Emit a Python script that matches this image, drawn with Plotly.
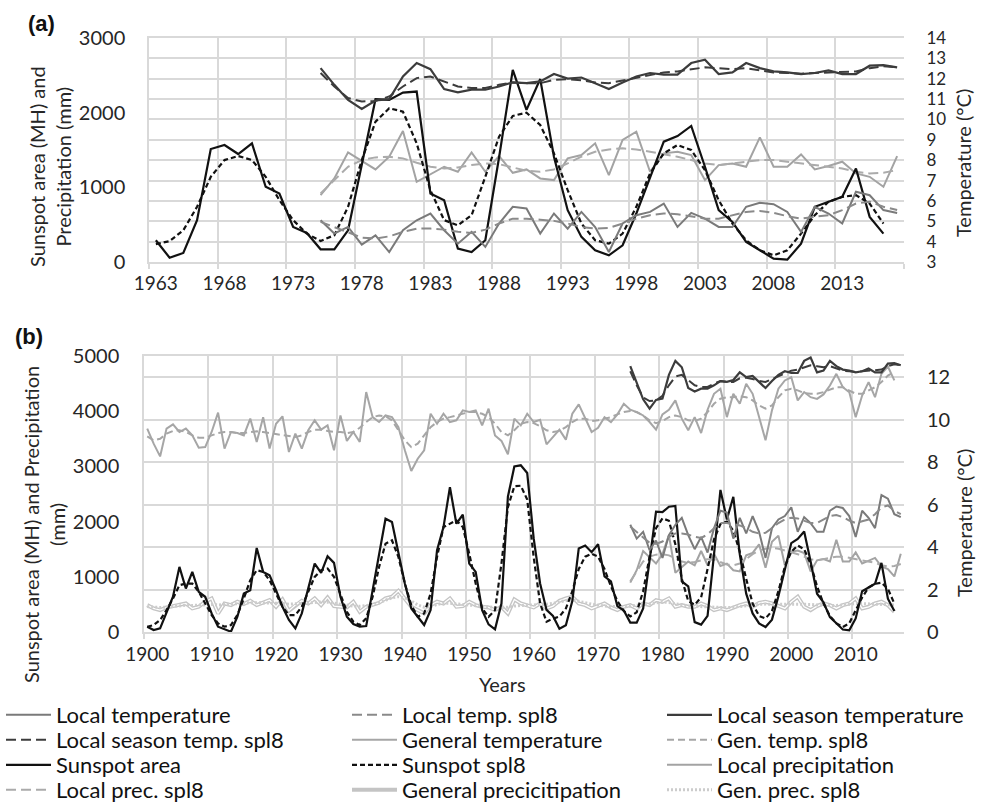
import plotly.graph_objects as go

# ---------------- data ----------------
years_long = list(range(1900, 2017))          # sunspot / general series
sunspot_area = [
    96, 36, 66, 337, 638, 1179, 788, 1089, 728, 638,
    337, 96, 48, 6, 277, 698, 758, 1522, 1089, 1029,
    758, 457, 217, 66, 337, 788, 1240, 1071, 1372, 1252,
    638, 277, 144, 96, 108, 758, 1420, 2052, 1992, 1420,
    878, 427, 277, 126, 397, 1480, 1901, 2623, 1962, 2124,
    1240, 1089, 397, 138, 48, 517, 2450, 3000, 3020, 2880,
    1700, 880, 400, 291, 58, 121, 560, 1513, 1567, 1446,
    1589, 1007, 918, 470, 389, 170, 170, 425, 1300, 2180,
    2171, 2269, 2283, 918, 828, 179, 134, 291, 1400, 2574,
    2037, 2450, 1410, 694, 336, 157, 90, 224, 649, 1141,
    1611, 1687, 1822, 1276, 694, 537, 269, 157, 45, 31,
    246, 739, 806, 873, 1253, 604, 380]
sunspot_spl8 = [
    96, 126, 217, 397, 608, 848, 878, 878, 728, 517,
    307, 156, 96, 126, 307, 608, 939, 1119, 1089, 939,
    698, 457, 307, 307, 457, 728, 999, 1119, 1149, 999,
    668, 367, 187, 126, 247, 638, 1179, 1600, 1661, 1360,
    878, 487, 277, 337, 698, 1360, 1901, 1962, 2022, 1901,
    1420, 878, 427, 277, 397, 1240, 2262, 2640, 2650, 2400,
    1360, 517, 187, 240, 280, 425, 739, 1141, 1365, 1419,
    1365, 1141, 828, 560, 380, 282, 358, 739, 1365, 1880,
    2059, 2014, 1589, 962, 560, 492, 627, 1141, 1679, 1956,
    2000, 1835, 1455, 962, 515, 291, 246, 380, 739, 1186,
    1455, 1567, 1500, 1231, 828, 515, 291, 157, 90, 157,
    380, 627, 806, 873, 895, 783, 515]
gen_temp = [
    9.58, 8.87, 8.27, 9.58, 9.78, 9.42, 9.58, 9.26, 8.68, 8.71,
    9.42, 10.33, 8.64, 9.42, 9.37, 9.26, 10.05, 8.95, 10.12, 8.64,
    9.81, 10.16, 8.48, 9.34, 8.64, 9.50, 9.97, 9.53, 9.73, 8.56,
    10.2, 9.0, 9.42, 8.95, 11.3, 10.12, 9.89, 10.2, 10.12, 9.65,
    8.56, 7.58, 8.16, 8.56, 10.28, 9.81, 10.28, 9.89, 9.97, 10.44,
    10.36, 10.44, 9.73, 10.52, 9.26, 9.0, 8.37, 10.05, 9.73, 10.28,
    9.89, 10.0, 8.84, 9.18, 9.53, 9.06, 10.28, 10.72, 10.05, 9.42,
    9.62, 10.12, 9.89, 10.25, 10.75, 10.47, 10.36, 10.2, 9.89, 9.53,
    10.25, 10.47, 10.91, 10.05, 9.50, 10.12, 9.37, 10.47, 11.22, 11.46,
    10.12, 11.22, 10.75, 11.69, 11.22, 10.12, 9.03, 10.44, 11.46, 11.85,
    12.0, 10.91, 11.3, 11.06, 10.98, 11.19, 11.61, 12.16, 11.53, 11.3,
    10.12, 11.14, 11.77, 11.06, 12.16, 12.5, 11.85]
gen_temp_spl8 = [
    9.21, 9.03, 9.1, 9.34, 9.47, 9.5, 9.42, 9.26, 9.15, 9.15,
    9.26, 9.37, 9.42, 9.42, 9.37, 9.37, 9.42, 9.45, 9.42, 9.37,
    9.31, 9.26, 9.21, 9.18, 9.26, 9.42, 9.53, 9.53, 9.47, 9.42,
    9.42, 9.37, 9.42, 9.62, 9.89, 10.12, 10.2, 10.16, 9.97, 9.5,
    9.03, 8.71, 8.87, 9.26, 9.65, 9.89, 10.05, 10.12, 10.2, 10.31,
    10.36, 10.36, 10.28, 10.12, 9.81, 9.42, 9.26, 9.5, 9.81, 9.89,
    9.84, 9.69, 9.5, 9.42, 9.47, 9.65, 9.89, 10.05, 10.05, 9.94,
    9.97, 10.05, 10.12, 10.25, 10.36, 10.41, 10.36, 10.2, 9.97, 9.84,
    9.94, 10.12, 10.2, 10.12, 9.97, 9.94, 10.05, 10.36, 10.75, 10.99,
    11.06, 11.06, 11.1, 11.06, 10.91, 10.67, 10.52, 10.67, 11.06, 11.38,
    11.46, 11.38, 11.25, 11.22, 11.22, 11.3, 11.41, 11.53, 11.53, 11.38,
    11.22, 11.22, 11.38, 11.53, 11.77, 12.08, 12.24]
gen_prec = [
    487, 427, 397, 445, 469, 487, 517, 427, 457, 548,
    608, 337, 517, 487, 548, 505, 565, 487, 529, 578,
    457, 590, 385, 487, 565, 517, 608, 487, 626, 469,
    457, 445, 548, 367, 457, 487, 529, 608, 638, 746,
    608, 457, 397, 337, 487, 548, 517, 608, 457, 469,
    548, 487, 457, 445, 397, 457, 337, 590, 517, 487,
    445, 517, 427, 469, 565, 608, 638, 517, 487, 427,
    469, 517, 445, 397, 457, 487, 427, 517, 487, 578,
    548, 608, 457, 487, 457, 457, 517, 469, 397, 427,
    397, 445, 487, 517, 457, 529, 548, 517, 469, 427,
    548, 638, 457, 397, 469, 517, 487, 427, 487, 517,
    608, 427, 457, 517, 548, 487, 367]
gen_prec_spl8 = [
    460, 450, 445, 450, 465, 480, 485, 480, 490, 500,
    500, 490, 500, 510, 520, 525, 530, 530, 530, 525,
    520, 515, 505, 510, 520, 530, 540, 545, 540, 520,
    500, 480, 470, 465, 475, 495, 530, 580, 620, 640,
    620, 560, 490, 450, 460, 500, 520, 520, 510, 500,
    495, 485, 470, 455, 440, 440, 450, 470, 485, 490,
    490, 495, 505, 520, 545, 570, 580, 560, 530, 505,
    485, 470, 460, 455, 460, 470, 480, 495, 510, 530,
    540, 535, 510, 485, 470, 465, 460, 455, 445, 440,
    440, 450, 465, 480, 490, 500, 505, 505, 500, 500,
    505, 510, 510, 500, 490, 485, 480, 480, 490, 505,
    515, 515, 510, 505, 500, 495, 490]

years_local = list(range(1975, 2018))
local_season_temp = [
    12.52, 11.70, 10.96, 10.52, 10.93, 11.0, 12.11, 12.77, 12.47, 11.49,
    11.33, 11.46, 11.46, 11.62, 11.82, 11.78, 11.87, 12.23, 12.01, 12.06,
    11.78, 11.49, 11.82, 12.11, 12.28, 12.2, 12.2, 12.77, 12.93, 12.23,
    12.31, 12.77, 12.52, 12.36, 12.31, 12.23, 12.28, 12.41, 12.23, 12.23,
    12.64, 12.67, 12.56]
local_season_spl8 = [
    12.28, 11.62, 11.05, 10.88, 10.91, 11.13, 11.62, 12.03, 12.11, 11.87,
    11.62, 11.54, 11.54, 11.70, 11.82, 11.78, 11.78, 11.95, 11.98, 11.92,
    11.82, 11.78, 11.92, 12.06, 12.2, 12.31, 12.36, 12.47, 12.56, 12.52,
    12.47, 12.52, 12.41, 12.31, 12.28, 12.25, 12.28, 12.31, 12.31, 12.36,
    12.52, 12.61, 12.56]
local_temp = [
    5.05, 4.40, 4.72, 3.85, 4.31, 3.49, 4.56, 5.05, 5.38, 4.56,
    3.9, 4.48, 3.74, 4.89, 5.71, 5.63, 4.40, 5.38, 4.64, 5.46,
    4.72, 3.49, 4.89, 5.30, 5.46, 5.87, 4.72, 5.41, 5.13, 4.72,
    4.72, 5.71, 5.91, 5.84, 5.46, 4.48, 5.71, 5.38, 4.89, 6.45,
    6.28, 5.55, 5.41]
local_temp_spl8 = [
    4.97, 4.72, 4.48, 4.2, 4.15, 4.26, 4.48, 4.64, 4.64, 4.59,
    4.48, 4.43, 4.59, 4.89, 5.13, 5.13, 5.08, 5.02, 4.89, 4.72,
    4.64, 4.67, 4.89, 5.13, 5.30, 5.38, 5.35, 5.25, 5.13, 5.13,
    5.30, 5.46, 5.51, 5.41, 5.25, 5.13, 5.22, 5.30, 5.55, 5.87,
    5.96, 5.71, 5.55]
local_prec = [
    895, 1119, 1468, 1352, 1240, 1410, 1755, 1074, 1177, 1276,
    1209, 1468, 1209, 1419, 1195, 1240, 1119, 1097, 1388, 1432,
    1589, 1164, 1634, 1746, 1209, 1455, 1477, 1432, 1097, 1298,
    1320, 1276, 1670, 1276, 1276, 1441, 1240, 1285, 1343, 1186,
    1141, 1007, 1419]
local_prec_spl8 = [
    918, 1097, 1276, 1365, 1401, 1410, 1388, 1329, 1276, 1253,
    1267, 1298, 1320, 1311, 1267, 1222, 1209, 1240, 1320, 1410,
    1477, 1508, 1522, 1508, 1477, 1446, 1410, 1365, 1320, 1298,
    1320, 1343, 1365, 1365, 1343, 1320, 1298, 1285, 1253, 1209,
    1186, 1195, 1231]

ticks_a = list(range(1963, 2014, 5))
ticks_b = list(range(1900, 2011, 10))

# ---------------- styles ----------------
W, H = 985, 807
GRID = "#d9d9d9"
FONT = "Lato"
STY = {
    "Sunspot area": dict(color="#111111", width=2.2),
    "Sunspot spl8": dict(color="#111111", width=2.2, dash="5px,3px"),
    "Local season temperature": dict(color="#3c3c3c", width=2.2),
    "Local season temp. spl8": dict(color="#3c3c3c", width=2.0, dash="10px,5px"),
    "Local temperature": dict(color="#7a7a7a", width=2.0),
    "Local temp. spl8": dict(color="#8a8a8a", width=2.0, dash="10px,5px"),
    "Local precipitation": dict(color="#a3a3a3", width=2.0),
    "Local prec. spl8": dict(color="#ababab", width=2.0, dash="10px,5px"),
    "General temperature": dict(color="#a6a6a6", width=2.0),
    "Gen. temp. spl8": dict(color="#a6a6a6", width=2.0, dash="7px,4px"),
    "General precicitipation": dict(color="#c4c4c4", width=4.0),
    "Gen. prec. spl8": dict(color="#cccccc", width=3.0, dash="2px,2px"),
}
# legend grid: name -> (column, row)
LEG = {
    "Local temperature": (0, 0), "Local temp. spl8": (1, 0), "Local season temperature": (2, 0),
    "Local season temp. spl8": (0, 1), "General temperature": (1, 1), "Gen. temp. spl8": (2, 1),
    "Sunspot area": (0, 2), "Sunspot spl8": (1, 2), "Local precipitation": (2, 2),
    "Local prec. spl8": (0, 3), "General precicitipation": (1, 3), "Gen. prec. spl8": (2, 3),
}
leg_order = list(LEG.keys())
col_x = [1, 347, 662]
row_y = [715, 740, 765, 790]

fig = go.Figure()


def add(x, y, name, xa, ya, legend=False):
    kw = {}
    if legend:
        kw["legend"] = "legend" if leg_order.index(name) == 0 else "legend%d" % (leg_order.index(name) + 1)
    fig.add_trace(go.Scatter(x=x, y=y, name=name, mode="lines", line=STY[name],
                             xaxis=xa, yaxis=ya, showlegend=legend, hoverinfo="skip", **kw))


i63 = years_long.index(1963)
# ---- panel (a)
add(years_local, local_prec, "Local precipitation", "x", "y")
add(years_local, local_prec_spl8, "Local prec. spl8", "x", "y")
add(years_local, local_temp, "Local temperature", "x", "y2")
add(years_local, local_temp_spl8, "Local temp. spl8", "x", "y2")
add(years_local, local_season_temp, "Local season temperature", "x", "y2")
add(years_local, local_season_spl8, "Local season temp. spl8", "x", "y2")
add(years_long[i63:], sunspot_area[i63:], "Sunspot area", "x", "y")
add(years_long[i63:], sunspot_spl8[i63:], "Sunspot spl8", "x", "y")

# ---- panel (b)
add(years_long, gen_prec, "General precicitipation", "x2", "y3", True)
fig.add_trace(go.Scatter(x=years_long, y=gen_prec, mode="lines", showlegend=False, hoverinfo="skip",
                         line=dict(color="white", width=1.3), xaxis="x2", yaxis="y3"))
add(years_long, gen_prec_spl8, "Gen. prec. spl8", "x2", "y3", True)
add(years_long, gen_temp, "General temperature", "x2", "y4", True)
add(years_long, gen_temp_spl8, "Gen. temp. spl8", "x2", "y4", True)
add(years_local, local_prec, "Local precipitation", "x2", "y3", True)
add(years_local, local_prec_spl8, "Local prec. spl8", "x2", "y3", True)
add(years_local, local_temp, "Local temperature", "x2", "y4", True)
add(years_local, local_temp_spl8, "Local temp. spl8", "x2", "y4", True)
add(years_local, local_season_temp, "Local season temperature", "x2", "y4", True)
add(years_local, local_season_spl8, "Local season temp. spl8", "x2", "y4", True)
add(years_long, sunspot_area, "Sunspot area", "x2", "y3", True)
add(years_long, sunspot_spl8, "Sunspot spl8", "x2", "y3", True)


def px(x):
    return x / W


def py(y):
    return 1 - y / H


tickfont = dict(family=FONT, size=19, color="#262626")
ytickfont = dict(family=FONT, size=20, color="#262626")
rtickfont = dict(family=FONT, size=17, color="#262626")
common_x = dict(showgrid=False, zeroline=False, showline=True, mirror=True, linecolor=GRID, linewidth=1.5,
                ticks="outside", tickcolor="rgba(0,0,0,0)", tickfont=tickfont, tickmode="array")

layout = dict(
    width=W, height=H, margin=dict(l=0, r=0, t=0, b=0, autoexpand=False),
    paper_bgcolor="white", plot_bgcolor="white",
    font=dict(family=FONT, color="#262626"),
    xaxis=dict(domain=[px(149), px(904)], anchor="y", range=[1962.5, 2017.5],
               tickvals=ticks_a, ticktext=[str(t) for t in ticks_a], ticklen=3,
               minor=dict(tick0=1962.5, dtick=5, showgrid=True, gridcolor=GRID, gridwidth=1.5,
                          ticks="outside", ticklen=5, tickcolor=GRID, tickwidth=1.5), **common_x),
    yaxis=dict(domain=[py(262), py(38)], anchor="x", range=[0, 3000], tickvals=[0, 1000, 2000, 3000],
               showgrid=False, zeroline=False, showline=True, linecolor=GRID, linewidth=1.5,
               ticks="outside", ticklen=18, tickcolor="rgba(0,0,0,0)", tickfont=ytickfont),
    yaxis2=dict(overlaying="y", side="right", anchor="x", range=[3, 14], tickvals=list(range(3, 15)),
                showgrid=True, gridcolor=GRID, gridwidth=1.5, zeroline=False, showline=False,
                ticks="outside", ticklen=18, tickcolor="rgba(0,0,0,0)", tickfont=rtickfont),
    xaxis2=dict(domain=[px(144), px(904)], anchor="y3", range=[1899.5, 2017.5],
                tickvals=ticks_b, ticktext=[str(t) for t in ticks_b], ticklen=4,
                minor=dict(tick0=1899.5, dtick=10, showgrid=True, gridcolor=GRID, gridwidth=1.5,
                           ticks="outside", ticklen=5, tickcolor=GRID, tickwidth=1.5), **common_x),
    yaxis3=dict(domain=[py(632), py(356)], anchor="x2", range=[0, 5000], tickvals=list(range(0, 5001, 1000)),
                showgrid=False, zeroline=False, showline=True, linecolor=GRID, linewidth=1.5,
                ticks="outside", ticklen=19, tickcolor="rgba(0,0,0,0)", tickfont=ytickfont),
    yaxis4=dict(overlaying="y3", side="right", anchor="x2", range=[0, 13], tickvals=list(range(0, 13, 2)),
                showgrid=True, gridcolor=GRID, gridwidth=1.5, zeroline=False, showline=False,
                ticks="outside", ticklen=18, tickcolor="rgba(0,0,0,0)", tickfont=ytickfont),
)

# one legend box per entry, arranged in the 3 x 4 grid of the original
for k, name in enumerate(leg_order):
    c, r = LEG[name]
    key = "legend" if k == 0 else "legend%d" % (k + 1)
    layout[key] = dict(x=px(col_x[c]), y=py(row_y[r]), xanchor="left", yanchor="middle",
                       bgcolor="rgba(0,0,0,0)", borderwidth=0, itemwidth=45,
                       font=dict(family=FONT, size=22, color="#111111"))

fig.update_layout(**layout)

ann = [
    dict(text="<b>(a)</b>", x=px(41), y=py(24), font=dict(family="Liberation Sans", size=22, color="#111")),
    dict(text="<b>(b)</b>", x=px(29), y=py(336), font=dict(family="Liberation Sans", size=22, color="#111")),
    dict(text="Sunspot area (MH) and<br>Precipitation (mm)", x=px(50), y=py(167), textangle=-90,
         font=dict(family=FONT, size=20, color="#262626")),
    dict(text="Temperature (°C)", x=px(963), y=py(163), textangle=-90,
         font=dict(family=FONT, size=20, color="#262626")),
    dict(text="Sunspot area (MH) and Precipitation<br>(mm)", x=px(44), y=py(525), textangle=-90,
         font=dict(family=FONT, size=20, color="#262626")),
    dict(text="Temperature (°C)", x=px(964), y=py(523), textangle=-90,
         font=dict(family=FONT, size=20, color="#262626")),
    dict(text="Years", x=px(503), y=py(684), font=dict(family=FONT, size=20, color="#262626")),
]
for a in ann:
    a.update(xref="paper", yref="paper", showarrow=False, xanchor="center", yanchor="middle")
fig.update_layout(annotations=ann)

fig.write_html("out.html", config={"displayModeBar": False},
               post_script="document.body.style.margin='0';document.body.style.padding='0';")
